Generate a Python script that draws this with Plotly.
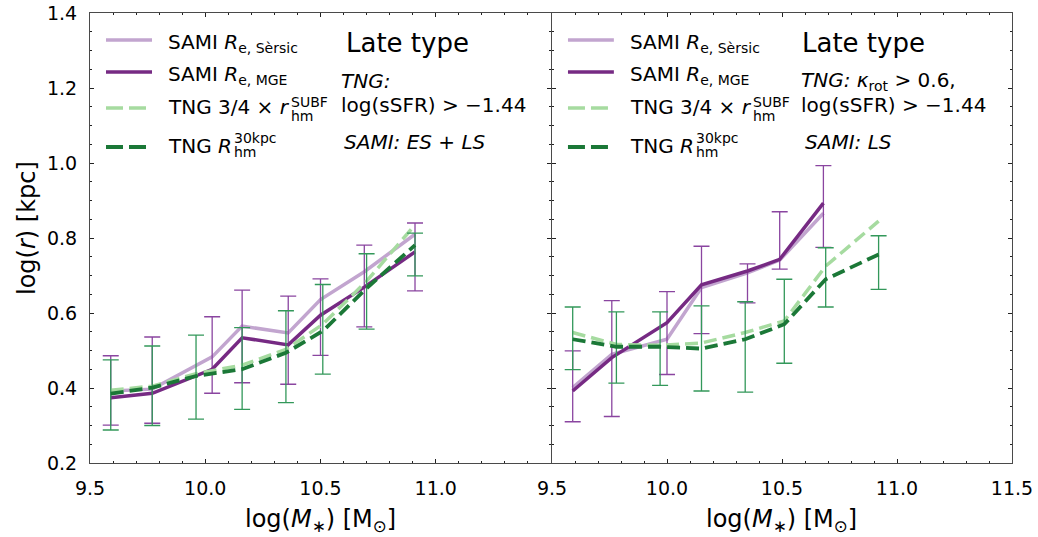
import plotly.graph_objects as go

# ---- Left panel: late types (SAMI ES + LS) ----
sami_mass_es = [9.59, 9.77, 10.03, 10.16, 10.36, 10.50, 10.69, 10.91]
sami_sersic_es = [0.392, 0.397, 0.483, 0.565, 0.547, 0.636, 0.710, 0.810]
sami_mge_es = [0.374, 0.386, 0.450, 0.534, 0.515, 0.594, 0.669, 0.763]
sami_lo_es = [0.301, 0.306, 0.386, 0.414, 0.410, 0.487, 0.563, 0.659]
sami_hi_es = [0.486, 0.536, 0.590, 0.661, 0.645, 0.691, 0.781, 0.840]

tng_mass_a = [9.59, 9.77, 9.96, 10.16, 10.35, 10.51, 10.70, 10.91]
tng_subf_a = [0.394, 0.405, 0.438, 0.461, 0.503, 0.570, 0.685, 0.835]
tng_30kpc_a = [0.385, 0.401, 0.432, 0.450, 0.494, 0.552, 0.666, 0.781]
tng_lo_a = [0.288, 0.300, 0.317, 0.343, 0.361, 0.437, 0.557, 0.699]
tng_hi_a = [0.475, 0.512, 0.541, 0.561, 0.606, 0.676, 0.758, 0.813]

# ---- Right panel: late types (SAMI LS, TNG kappa_rot cut) ----
sami_mass_ls = [9.59, 9.76, 10.00, 10.15, 10.35, 10.49, 10.68]
sami_sersic_ls = [0.401, 0.490, 0.530, 0.668, 0.707, 0.741, 0.866]
sami_mge_ls = [0.392, 0.481, 0.574, 0.675, 0.712, 0.743, 0.893]
sami_lo_ls = [0.310, 0.324, 0.436, 0.545, 0.627, 0.717, 0.775]
sami_hi_ls = [0.499, 0.633, 0.657, 0.778, 0.731, 0.870, 0.993]

tng_mass_b = [9.59, 9.78, 9.97, 10.15, 10.34, 10.51, 10.69, 10.92]
tng_subf_b = [0.548, 0.516, 0.514, 0.520, 0.548, 0.579, 0.725, 0.845]
tng_30kpc_b = [0.530, 0.510, 0.510, 0.505, 0.530, 0.570, 0.690, 0.756]
tng_lo_b = [0.449, 0.413, 0.407, 0.392, 0.389, 0.466, 0.616, 0.663]
tng_hi_b = [0.616, 0.603, 0.603, 0.619, 0.630, 0.690, 0.774, 0.806]

x_ticks_left = [9.5, 10.0, 10.5, 11.0]
x_ticks_right = [9.5, 10.0, 10.5, 11.0, 11.5]
y_ticks = [0.2, 0.4, 0.6, 0.8, 1.0, 1.2, 1.4]

C_SERSIC = "#c2a5cf"
C_MGE = "#762a83"
C_SUBF = "#a6dba0"
C_30KPC = "#1b7837"
C_ERR_P = "#8a45a0"
C_ERR_G = "#33985a"
AXC = "#4a4a4a"
TKC = "#222222"
FONT = "DejaVu Sans"

W, H = 1038, 537
ML, MR, MT, MB = 90, 26, 13, 74
PW = (W - ML - MR) / 2.0  # width of one panel in px
PH = H - MT - MB
SHIFT = 1.0 / (W - ML - MR)  # one pixel, so the shared border lines coincide


def err(vals, lo, hi, color):
    return dict(type="data", symmetric=False,
                array=[h - v for v, h in zip(vals, hi)],
                arrayminus=[v - l for v, l in zip(vals, lo)],
                color=color, thickness=1.3, width=8)


fig = go.Figure()


def add_panel(xa, ya, sm, ss, smge, slo, shi, tm, tsubf, t30, tlo, thi):
    fig.add_trace(go.Scatter(x=sm, y=ss, mode="lines", xaxis=xa, yaxis=ya,
                             line=dict(color=C_SERSIC, width=3.5),
                             showlegend=False, hoverinfo="skip"))
    fig.add_trace(go.Scatter(x=sm, y=smge, mode="lines", xaxis=xa, yaxis=ya,
                             line=dict(color=C_MGE, width=3.5),
                             error_y=err(smge, slo, shi, C_ERR_P),
                             showlegend=False, hoverinfo="skip"))
    fig.add_trace(go.Scatter(x=tm, y=tsubf, mode="lines", xaxis=xa, yaxis=ya,
                             line=dict(color=C_SUBF, width=3.5, dash="13px,6px"),
                             showlegend=False, hoverinfo="skip"))
    fig.add_trace(go.Scatter(x=tm, y=t30, mode="lines", xaxis=xa, yaxis=ya,
                             line=dict(color=C_30KPC, width=3.8, dash="13px,6px"),
                             error_y=err(t30, tlo, thi, C_ERR_G),
                             showlegend=False, hoverinfo="skip"))


add_panel("x", "y", sami_mass_es, sami_sersic_es, sami_mge_es, sami_lo_es, sami_hi_es,
          tng_mass_a, tng_subf_a, tng_30kpc_a, tng_lo_a, tng_hi_a)
add_panel("x2", "y2", sami_mass_ls, sami_sersic_ls, sami_mge_ls, sami_lo_ls, sami_hi_ls,
          tng_mass_b, tng_subf_b, tng_30kpc_b, tng_lo_b, tng_hi_b)

axis_common = dict(showline=True, linecolor=AXC, linewidth=1, mirror="allticks",
                   ticks="inside", ticklen=4, tickwidth=1.2, tickcolor=TKC,
                   showgrid=False, zeroline=False, automargin=False,
                   tickfont=dict(family=FONT, size=19, color="black"))

fig.update_layout(
    width=W, height=H,
    margin=dict(l=ML, r=MR, t=MT, b=MB, autoexpand=False),
    paper_bgcolor="white", plot_bgcolor="white",
    font=dict(family=FONT, color="black"),
    xaxis=dict(domain=[0, 0.5], range=[9.5, 11.5], tickvals=x_ticks_left,
               ticktext=["%.1f" % v for v in x_ticks_left], anchor="y",
               minor=dict(dtick=0.1, ticks="inside", ticklen=2, tickcolor=TKC),
               ticklabelstandoff=8, **axis_common),
    xaxis2=dict(domain=[0.5 + SHIFT, 1.0], range=[9.5, 11.5], tickvals=x_ticks_right,
                ticktext=["%.1f" % v for v in x_ticks_right], anchor="y2",
                minor=dict(dtick=0.1, ticks="inside", ticklen=2, tickcolor=TKC),
                ticklabelstandoff=8, **axis_common),
    yaxis=dict(domain=[0, 1], range=[0.2, 1.4], tickvals=y_ticks,
               ticktext=["%.1f" % v for v in y_ticks], anchor="x",
               minor=dict(dtick=0.05, ticks="inside", ticklen=2, tickcolor=TKC),
               ticklabelstandoff=8, **axis_common),
    yaxis2=dict(domain=[0, 1], range=[0.2, 1.4], tickvals=y_ticks,
                showticklabels=False, anchor="x2",
                minor=dict(dtick=0.05, ticks="inside", ticklen=2, tickcolor=TKC),
                **axis_common),
)


def fx(off):
    return off / PW


def fy(py):
    return (H - MB - py) / PH


shapes = []
annotations = []


def text(xref, yref, xoff, py, s, size=20):
    annotations.append(dict(xref=xref, yref=yref, x=fx(xoff), y=fy(py), text=s,
                            showarrow=False, xanchor="left", yanchor="middle",
                            font=dict(family=FONT, size=size, color="black")))


legend_rows = [
    (40, C_SERSIC, "solid", 3.5, "SAMI <i>R</i><sub>e, Sèrsic</sub>", 43),
    (72, C_MGE, "solid", 3.5, "SAMI <i>R</i><sub>e, MGE</sub>", 75),
    (108, C_SUBF, "17px,6px", 3.5, "TNG 3/4 × <i>r</i>", 107),
    (147, C_30KPC, "17px,6px", 3.8, "TNG <i>R</i>", 146),
]

for xa, ya in (("x", "y"), ("x2", "y2")):
    xr, yr = xa + " domain", ya + " domain"
    for py, col, dash, w, label, ty in legend_rows:
        shapes.append(dict(type="line", xref=xr, yref=yr,
                           x0=fx(16), x1=fx(62), y0=fy(py), y1=fy(py),
                           line=dict(color=col, width=w, dash=dash)))
        text(xr, yr, 76, ty, label)
    # stacked super/subscripts of the TNG radii
    text(xr, yr, 199, 102, "SUBF", 14)
    text(xr, yr, 199, 116, "hm", 14)
    text(xr, yr, 142, 138, "30kpc", 14)
    text(xr, yr, 142, 152, "hm", 14)

# left panel notes
text("x domain", "y domain", 254, 43, "Late type", 26)
text("x domain", "y domain", 249, 81, "<i>TNG:</i>", 20)
text("x domain", "y domain", 249, 105, "log(sSFR) > −1.44", 20)
text("x domain", "y domain", 252, 142, "<i>SAMI: ES + LS</i>", 20)

# right panel notes
text("x2 domain", "y2 domain", 249, 43, "Late type", 26)
text("x2 domain", "y2 domain", 248, 81,
     "<i>TNG:</i> <i>κ</i><sub>rot</sub> > 0.6,", 20)
text("x2 domain", "y2 domain", 248, 105, "log(sSFR) > −1.44", 20)
text("x2 domain", "y2 domain", 252, 142, "<i>SAMI: LS</i>", 20)

# axis titles
xlab = "log(<i>M</i><sub>∗</sub>) [M<sub>⊙</sub>]"
for cx in (ML + PW / 2.0, ML + 1.5 * PW):
    annotations.append(dict(xref="paper", yref="paper",
                            x=(cx - ML) / (2 * PW), y=(H - MB - 520) / PH,
                            text=xlab, showarrow=False, xanchor="center",
                            yanchor="middle",
                            font=dict(family=FONT, size=24, color="black")))
annotations.append(dict(xref="paper", yref="paper",
                        x=(27 - ML) / (2 * PW), y=(H - MB - 228) / PH,
                        text="log(<i>r</i>) [kpc]", textangle=-90, showarrow=False,
                        xanchor="center", yanchor="middle",
                        font=dict(family=FONT, size=24, color="black")))

fig.update_layout(shapes=shapes, annotations=annotations)
fig.write_html("out.html")
